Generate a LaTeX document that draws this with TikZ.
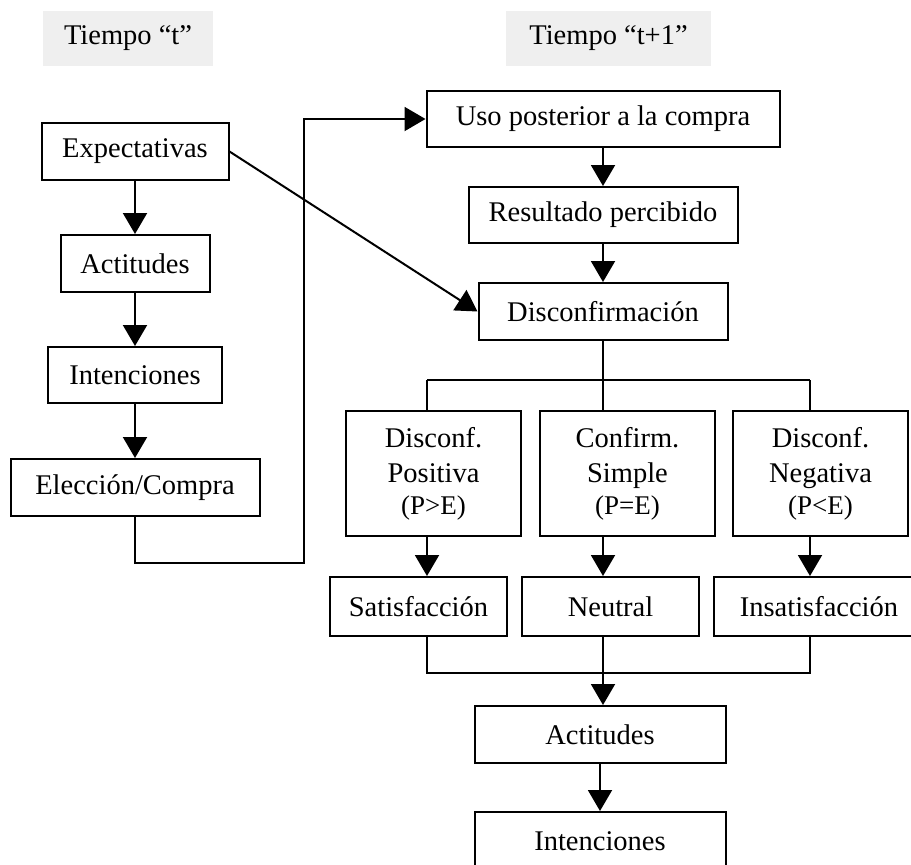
\documentclass[tikz,border=0pt]{standalone}
\usepackage{fontspec}
\setmainfont{Liberation Serif}
\usetikzlibrary{arrows.meta}
\definecolor{headgray}{HTML}{EFEFEF}
\tikzset{
  box/.style={draw=black, line width=2pt, fill=white, inner sep=0pt, align=center,
              font=\fontsize{28.5}{35}\selectfont},
  head/.style={fill=headgray, inner sep=0pt, font=\fontsize{28.5}{35}\selectfont},
  conn/.style={line width=2pt},
  arr/.style={line width=2pt, -{Triangle[length=21pt,width=24pt]}},
}
\newcommand{\smallpart}[1]{{\fontsize{27}{29}\selectfont #1}}
\begin{document}
\begin{tikzpicture}[x=1pt,y=-1pt]
\useasboundingbox (0,0) rectangle (911,865);

% period headers
\node[head, minimum width=170, minimum height=55] (t1) at (128,38.5) {Tiempo “t”};
\node[head, minimum width=205, minimum height=55] (t2) at (608.5,38.5) {Tiempo “t+1”};

% time t column
\node[box, minimum width=187, minimum height=57] (exp)  at (135,151.5) {Expectativas};
\node[box, minimum width=149, minimum height=57] (act1) at (135,263.5) {Actitudes};
\node[box, minimum width=174, minimum height=56] (int1) at (135,375) {Intenciones};
\node[box, minimum width=249, minimum height=57] (ele)  at (135,487.5) {Elección/Compra};

% time t+1 column
\node[box, minimum width=353, minimum height=56] (uso) at (603,119) {Uso posterior a la compra};
\node[box, minimum width=269, minimum height=56] (res) at (603,215) {Resultado percibido};
\node[box, minimum width=249, minimum height=57] (dis) at (603,311.5) {Disconfirmación};

% three outcomes of disconfirmation
\node[box, minimum width=175, minimum height=125] (b1) at (433.5,473.5)
  {Disconf.\\Positiva\\[-3pt]\smallpart{(P>E)}};
\node[box, minimum width=175, minimum height=125] (b2) at (627.5,473.5)
  {Confirm.\\Simple\\[-3pt]\smallpart{(P=E)}};
\node[box, minimum width=175, minimum height=125] (b3) at (820.5,473.5)
  {Disconf.\\Negativa\\[-3pt]\smallpart{(P<E)}};

\node[box, minimum width=177, minimum height=59] (sat) at (418.5,606.5) {Satisfacción};
\node[box, minimum width=177, minimum height=59] (neu) at (610.5,606.5) {Neutral};
\node[box, minimum width=210, minimum height=59] (ins) at (819,606.5) {Insatisfacción};

\node[box, minimum width=251, minimum height=57] (act2) at (600,734.5) {Actitudes};
\node[box, minimum width=251, minimum height=58] (int2) at (600,841) {Intenciones};

% branch columns and bar levels
\coordinate (c1) at (427,380);
\coordinate (c2) at (603,380);
\coordinate (c3) at (810,380);
\coordinate (j1) at (427,673);
\coordinate (j2) at (603,673);
\coordinate (j3) at (810,673);
\coordinate (k1) at (304,563);

% left column arrows
\draw[arr] (exp.south) -- (act1.north);
\draw[arr] (act1.south) -- (int1.north);
\draw[arr] (int1.south) -- (ele.north);

% purchase leads to use
\draw[arr] (ele.south) |- (k1) |- (uso.west);

% expectations feed disconfirmation
\draw[arr] (exp.east) -- (dis.west);

% right column arrows
\draw[arr] (uso.south) -- (res.north);
\draw[arr] (res.south) -- (dis.north);

% split into three
\draw[conn] (dis.south) -- (c2);
\draw[conn] (c1) -- (c3);
\draw[conn] (c1) -- (c1 |- b1.north);
\draw[conn] (c2) -- (c2 |- b2.north);
\draw[conn] (c3) -- (c3 |- b3.north);

\draw[arr] (c1 |- b1.south) -- (c1 |- sat.north);
\draw[arr] (c2 |- b2.south) -- (c2 |- neu.north);
\draw[arr] (c3 |- b3.south) -- (c3 |- ins.north);

% merge into attitudes
\draw[conn] (j1 |- sat.south) -- (j1) -- (j3) -- (j3 |- ins.south);
\draw[arr] (j2 |- neu.south) -- (j2 |- act2.north);
\draw[arr] (act2.south) -- (int2.north);
\end{tikzpicture}
\end{document}
